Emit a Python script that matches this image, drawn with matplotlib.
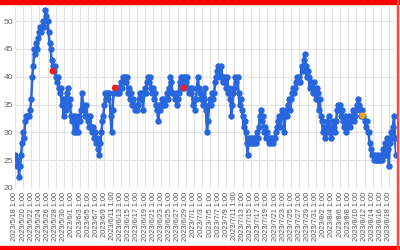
import matplotlib
matplotlib.use("Agg")
import matplotlib.pyplot as plt
import numpy as np
from matplotlib.patches import Rectangle

# values every 6 hours, starting 2023/5/18 1:00
may_vals = [26, 25, 24, 25, 22, 24, 26, 28, 30, 29, 32, 33, 33, 33, 33, 34,
            36, 40, 42, 45, 44, 46, 45, 47, 48, 49, 48, 49, 50, 49, 52, 51,
            50, 48, 46, 45, 43, 42, 41, 42, 40, 39, 40, 38, 37, 38, 35, 36,
            33, 36, 34, 37, 38, 35, 36, 33]
jun_vals = [32, 33, 30, 33, 30, 32, 30, 33, 32, 34, 37, 35, 34, 33, 35, 33,
            32, 31, 33, 31, 30, 31, 29, 30, 28, 29, 27, 26, 28, 30, 32, 33,
            35, 37, 36, 37, 36, 37, 33, 30, 34, 37, 38, 38, 37, 38, 37, 38,
            39, 38, 40, 39, 40, 39, 40, 37, 38, 36, 37, 35, 36, 35, 34, 35,
            34, 35, 36, 37, 36, 37, 34, 37, 38, 37, 39, 40, 39, 40, 38, 37,
            38, 36, 37, 35, 34, 32, 35, 34, 35, 36, 35, 36, 35, 36, 37, 36,
            38, 40, 39, 37, 37, 36, 37, 35, 36, 37, 39, 40, 38, 40, 38, 40,
            39, 40, 38, 37, 38, 37, 38, 35]
jul_vals = [36, 34, 36, 38, 40, 38, 37, 36, 37, 35, 36, 38, 34, 30, 32, 35,
            36, 35, 37, 36, 37, 39, 40, 41, 42, 41, 40, 42, 40, 39, 40, 39,
            38, 40, 37, 38, 36, 33, 35, 37, 38, 40, 39, 40, 37, 35, 36, 34,
            33, 31, 32, 30, 28, 26, 29, 28, 29, 28, 29, 28, 29, 28, 30, 29,
            31, 33, 34, 32, 33, 30, 31, 29, 30, 29, 28, 29, 28, 29, 28, 29,
            29, 30, 31, 32, 33, 31, 33, 34, 33, 30, 33, 34, 33, 35, 36, 34,
            36, 37, 38, 37, 38, 39, 40, 39, 40, 39, 42, 41, 43, 44, 42, 40,
            41, 40, 38, 39, 38, 37, 39, 37, 36, 38, 37, 34]
aug_vals = [36, 33, 32, 30, 31, 29, 30, 32, 30, 33, 31, 29, 30, 32, 31, 30,
            32, 34, 35, 34, 35, 33, 34, 32, 31, 33, 30, 31, 32, 33, 31, 32,
            33, 34, 32, 33, 34, 35, 36, 35, 34, 33, 34, 33, 32, 31, 32, 30,
            30, 28, 27, 26, 26, 25, 26, 25, 25, 26, 25, 25, 26, 25, 27, 26,
            28, 26, 29, 27, 24, 28, 30, 29, 31, 33, 29, 26]

# highlighted points (day offset from 5/18 1:00, value)
mark_days = [9.3, 24.65, 41.5, 85.5]
mark_vals = [41, 38, 38, 33]
mark_colors = ["#ff1a1a", "#ff1a1a", "#ff1a1a", "#f2a516"]

tick_labels = [
    "2023/5/18 1:00", "2023/5/20 1:00", "2023/5/22 1:00", "2023/5/24 1:00",
    "2023/5/26 1:00", "2023/5/28 1:00", "2023/5/30 1:00", "2023/6/1 1:00",
    "2023/6/3 1:00", "2023/6/5 1:00", "2023/6/7 1:00", "2023/6/9 1:00",
    "2023/6/11 1:00", "2023/6/13 1:00", "2023/6/15 1:00", "2023/6/17 1:00",
    "2023/6/19 1:00", "2023/6/21 1:00", "2023/6/23 1:00", "2023/6/25 1:00",
    "2023/6/27 1:00", "2023/6/29 1:00", "2023/7/1 1:00", "2023/7/3 1:00",
    "2023/7/5 1:00", "2023/7/7 1:00", "2023/7/9 1:00", "2023/7/11 1:00",
    "2023/7/13 1:00", "2023/7/15 1:00", "2023/7/17 1:00", "2023/7/19 1:00",
    "2023/7/21 1:00", "2023/7/23 1:00", "2023/7/25 1:00", "2023/7/27 1:00",
    "2023/7/29 1:00", "2023/7/31 1:00", "2023/8/2 1:00", "2023/8/4 1:00",
    "2023/8/6 1:00", "2023/8/8 1:00", "2023/8/10 1:00", "2023/8/12 1:00",
    "2023/8/14 1:00", "2023/8/16 1:00", "2023/8/18 1:00",
]

vals = may_vals + jun_vals + jul_vals + aug_vals
t = np.arange(len(vals)) / 4.0
tick_pos = np.arange(len(tick_labels)) * 2

blue = "#2766dd"
W, H = 400, 250

fig = plt.figure(figsize=(4, 2.5), dpi=100)
ax = fig.add_axes([15 / W, 62 / H, (396 - 15) / W, (188 - 5.5) / H])

ax.plot(t, vals, color=blue, lw=1.8, marker="o", ms=3.6, mfc=blue, mec=blue, zorder=3)
ax.scatter(mark_days, mark_vals, c=mark_colors, s=22, zorder=4, linewidths=0)

ax.set_xlim(0, 93.75)
ax.set_ylim(20, 52.8)
ax.set_yticks([20, 25, 30, 35, 40, 45, 50])
ax.set_xticks(tick_pos)
ax.set_xticklabels(tick_labels, rotation=90, fontsize=5.3, color="#555555",
                   family="Liberation Sans")
for lab in ax.get_yticklabels():
    lab.set_fontsize(6)
    lab.set_color("#666666")
    lab.set_family("Liberation Sans")
ax.tick_params(axis="x", length=0, pad=2.7)
ax.tick_params(axis="y", length=0, pad=1.5)
ax.grid(True, color="#e2e2e2", lw=0.8)
ax.set_axisbelow(True)
for s in ax.spines.values():
    s.set_visible(False)

# red frame pieces
fig.patches.append(Rectangle((0, 1 - 4 / H), 1, 4 / H, transform=fig.transFigure,
                             color="#ff0000", zorder=10))
fig.patches.append(Rectangle((0, 0), 1, 4.5 / H, transform=fig.transFigure,
                             color="#ff0000", zorder=10))
fig.patches.append(Rectangle((396.5 / W, 0), 1 / W, 1, transform=fig.transFigure,
                             color="#ff4444", zorder=10))

fig.savefig("out.png", dpi=100)
